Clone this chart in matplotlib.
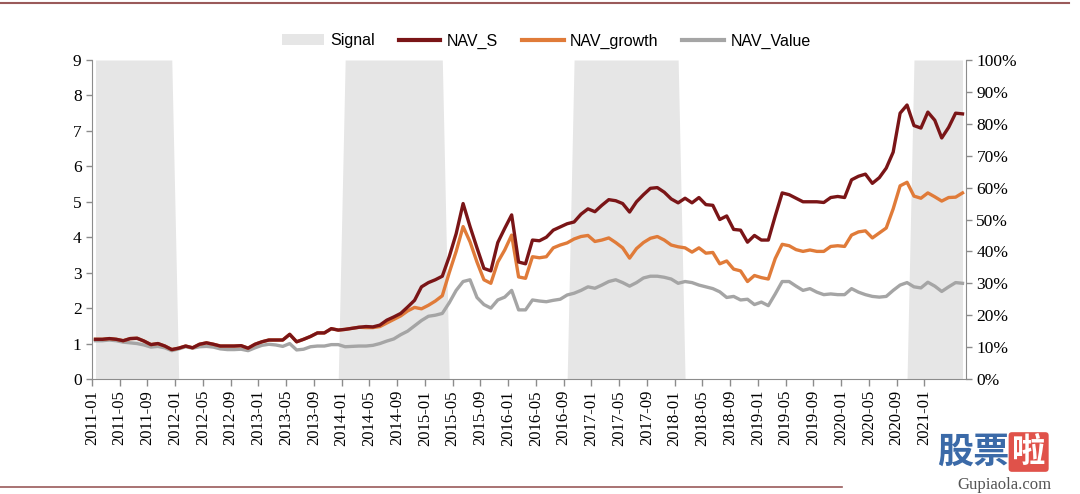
import numpy as np
import pandas as pd
import matplotlib
matplotlib.use('Agg')
import matplotlib.pyplot as plt
from matplotlib.lines import Line2D
from matplotlib.patches import Patch

# monthly categories 2011-01 .. 2021-06
months = pd.date_range('2011-01-01', periods=126, freq='MS').strftime('%Y-%m').tolist()

nav_s = [
    1.12, 1.12, 1.14, 1.12, 1.08, 1.14, 1.15, 1.07, 0.97, 1.00, 0.93, 0.83,
    0.87, 0.93, 0.88, 0.98, 1.02, 0.98, 0.93, 0.93, 0.93, 0.94, 0.87, 0.98,
    1.05, 1.10, 1.10, 1.10, 1.26, 1.05, 1.12, 1.20, 1.30, 1.30, 1.42, 1.38,
    1.40, 1.43, 1.46, 1.48, 1.47, 1.52, 1.66, 1.75, 1.85, 2.03, 2.22, 2.60,
    2.72, 2.80, 2.90, 3.45, 4.10, 4.95, 4.30, 3.70, 3.12, 3.05, 3.85, 4.25,
    4.63, 3.30, 3.25, 3.92, 3.90, 4.00, 4.20, 4.29, 4.38, 4.43, 4.65, 4.80,
    4.72, 4.90, 5.06, 5.03, 4.95, 4.71, 5.00, 5.20, 5.38, 5.40, 5.27, 5.08,
    4.97, 5.10, 4.97, 5.12, 4.92, 4.90, 4.50, 4.60, 4.22, 4.20, 3.86, 4.05,
    3.92, 3.92, 4.60, 5.25, 5.20, 5.10, 5.00, 5.00, 5.00, 4.98, 5.12, 5.15,
    5.12, 5.62, 5.72, 5.78, 5.52, 5.68, 5.95, 6.40, 7.50, 7.73, 7.15, 7.08,
    7.53, 7.30, 6.80, 7.10, 7.50, 7.48,
]
nav_growth = [
    1.12, 1.12, 1.14, 1.12, 1.08, 1.14, 1.15, 1.07, 0.97, 1.00, 0.93, 0.83,
    0.87, 0.93, 0.88, 0.98, 1.02, 0.98, 0.93, 0.93, 0.93, 0.94, 0.87, 0.98,
    1.05, 1.10, 1.10, 1.10, 1.26, 1.05, 1.12, 1.20, 1.30, 1.30, 1.42, 1.38,
    1.40, 1.43, 1.46, 1.45, 1.45, 1.48, 1.58, 1.68, 1.78, 1.92, 2.02, 1.98,
    2.08, 2.20, 2.35, 3.00, 3.60, 4.30, 3.87, 3.30, 2.80, 2.70, 3.30, 3.64,
    4.06, 2.88, 2.84, 3.45, 3.42, 3.45, 3.70, 3.78, 3.84, 3.95, 4.02, 4.05,
    3.88, 3.92, 3.98, 3.85, 3.70, 3.41, 3.68, 3.85, 3.97, 4.02, 3.92, 3.78,
    3.73, 3.70, 3.58, 3.70, 3.55, 3.57, 3.25, 3.33, 3.10, 3.05, 2.75, 2.92,
    2.86, 2.82, 3.40, 3.80, 3.76, 3.65, 3.60, 3.64, 3.60, 3.60, 3.74, 3.76,
    3.74, 4.06, 4.15, 4.18, 3.98, 4.12, 4.26, 4.80, 5.45, 5.55, 5.16, 5.10,
    5.25, 5.14, 5.02, 5.12, 5.13, 5.25,
]
nav_value = [
    1.08, 1.08, 1.10, 1.08, 1.04, 1.02, 1.00, 0.96, 0.90, 0.92, 0.88, 0.80,
    0.85, 0.91, 0.87, 0.91, 0.92, 0.90, 0.85, 0.83, 0.83, 0.84, 0.80, 0.88,
    0.95, 0.98, 0.96, 0.92, 1.00, 0.82, 0.84, 0.91, 0.93, 0.93, 0.97, 0.97,
    0.91, 0.92, 0.93, 0.93, 0.95, 1.00, 1.07, 1.13, 1.25, 1.35, 1.50, 1.65,
    1.77, 1.80, 1.85, 2.15, 2.50, 2.75, 2.80, 2.30, 2.10, 2.00, 2.23, 2.31,
    2.50, 1.95, 1.95, 2.23, 2.20, 2.18, 2.22, 2.25, 2.37, 2.42, 2.50, 2.60,
    2.56, 2.65, 2.75, 2.80, 2.72, 2.62, 2.72, 2.85, 2.90, 2.90, 2.87, 2.82,
    2.70, 2.75, 2.72, 2.65, 2.60, 2.55, 2.46, 2.30, 2.33, 2.23, 2.25, 2.10,
    2.17, 2.07, 2.40, 2.75, 2.75, 2.62, 2.50, 2.55, 2.45, 2.38, 2.40, 2.38,
    2.38, 2.55, 2.45, 2.38, 2.33, 2.31, 2.33, 2.50, 2.65, 2.72, 2.60, 2.57,
    2.73, 2.62, 2.47, 2.60, 2.72, 2.70,
]
signal = [
    1, 1, 1, 1, 1, 1, 1, 1, 1, 1, 1, 1,
    0, 0, 0, 0, 0, 0, 0, 0, 0, 0, 0, 0,
    0, 0, 0, 0, 0, 0, 0, 0, 0, 0, 0, 0,
    1, 1, 1, 1, 1, 1, 1, 1, 1, 1, 1, 1,
    1, 1, 1, 0, 0, 0, 0, 0, 0, 0, 0, 0,
    0, 0, 0, 0, 0, 0, 0, 0, 0, 1, 1, 1,
    1, 1, 1, 1, 1, 1, 1, 1, 1, 1, 1, 1,
    1, 0, 0, 0, 0, 0, 0, 0, 0, 0, 0, 0,
    0, 0, 0, 0, 0, 0, 0, 0, 0, 0, 0, 0,
    0, 0, 0, 0, 0, 0, 0, 0, 0, 0, 1, 1,
    1, 1, 1, 1, 1, 1,
]

serif = 'Liberation Serif'
axis_col = '#8c8c8c'

fig = plt.figure(figsize=(10.8, 4.94), dpi=100)
ax = fig.add_axes([92 / 1080, 1 - 379 / 494, (966 - 92) / 1080, (379 - 60) / 494])
ax2 = ax.twinx()

x = np.arange(len(months)) + 0.5

# signal shading on the right (percent) axis
ax2.fill_between(x, 0, signal, color='#e6e6e6', linewidth=0, zorder=0)
ax2.set_ylim(0, 1)
ax2.set_yticks(np.arange(0, 1.01, 0.1))
ax2.set_yticklabels([f'{int(round(v * 100))}%' for v in np.arange(0, 1.01, 0.1)])

# NAV lines on the left axis (drawn above the shading)
ax.set_zorder(ax2.get_zorder() + 1)
ax.patch.set_visible(False)
ax.plot(x, nav_value, color='#a5a5a5', lw=2.4, solid_joinstyle='round')
ax.plot(x, nav_growth, color='#e07b39', lw=2.4, solid_joinstyle='round')
ax.plot(x, nav_s, color='#7a1517', lw=2.4, solid_joinstyle='round')

ax.set_ylim(0, 9)
ax.set_yticks(range(0, 10))
ax.set_xlim(0, len(months))
tick_pos = np.arange(0, 121, 4)
ax.set_xticks(tick_pos)
ax.set_xticklabels([months[i] for i in tick_pos], rotation=90)

for a in (ax, ax2):
    for s in a.spines.values():
        s.set_color(axis_col)
    a.spines['top'].set_visible(False)
    a.tick_params(colors=axis_col, labelcolor='black', length=4, width=1)
    for lab in a.get_xticklabels() + a.get_yticklabels():
        lab.set_fontfamily(serif)
        lab.set_fontsize(12.5)
ax.tick_params(axis='x', length=5, pad=3)
for lab in ax.get_xticklabels():
    lab.set_fontsize(12)
ax.spines['right'].set_visible(False)
ax2.spines['left'].set_visible(False)
ax2.spines['bottom'].set_visible(False)

handles = [
    Patch(facecolor='#e6e6e6', edgecolor='none', label='Signal'),
    Line2D([], [], color='#7a1517', lw=3, label='NAV_S'),
    Line2D([], [], color='#e07b39', lw=3, label='NAV_growth'),
    Line2D([], [], color='#a5a5a5', lw=3, label='NAV_Value'),
]
fig.legend(handles=handles, loc='center', bbox_to_anchor=(0.506, 0.917), ncol=4,
           frameon=False, handlelength=2.6, handletextpad=0.4, columnspacing=1.5,
           prop={'family': 'Liberation Sans', 'size': 11.5})

# report-style rules at top and bottom
fig.add_artist(Line2D([0, 0.99], [1 - 3 / 494, 1 - 3 / 494], color='#9a5a5a', lw=1.5))
fig.add_artist(Line2D([0, 0.78], [1 - 487 / 494, 1 - 487 / 494], color='#9a5a5a', lw=1.2))

# watermark
fig.text(0.935, 0.085, '股票', fontsize=26, color='#3b6aa8', fontweight='bold',
         family=['Noto Sans CJK SC', 'DejaVu Sans'], ha='right', va='center')
fig.text(0.937, 0.085, '啦', fontsize=24, color='white', fontweight='bold',
         family=['Noto Sans CJK SC', 'DejaVu Sans'], ha='left', va='center',
         bbox=dict(boxstyle='round,pad=0.1', facecolor='#e0524a', edgecolor='none'))
fig.text(0.93, 0.018, 'Gupiaola.com', fontsize=12, color='#555555', family=serif,
         ha='center', va='center')

fig.savefig('out.png', dpi=100)
